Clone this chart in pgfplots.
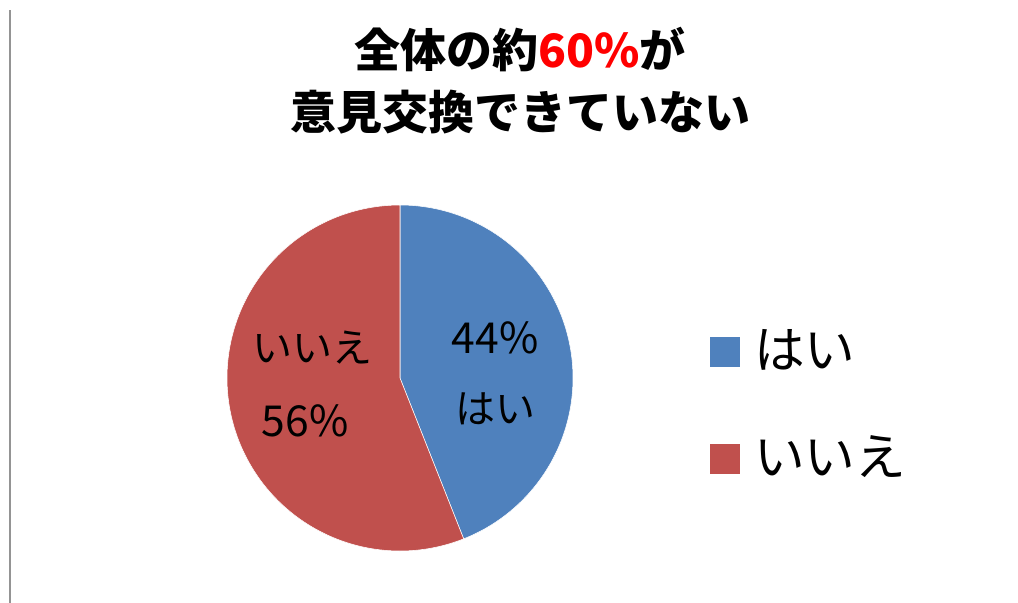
\documentclass[border=0pt]{standalone}
\usepackage{fontspec}
\setmainfont{Noto Sans CJK JP}
\usepackage{pgfplots}
\usepackage{pgfplotstable}
\pgfplotsset{compat=1.18}
\definecolor{pieblue}{HTML}{4F81BD}
\definecolor{piered}{HTML}{C0504D}
\pgfplotstableread{
value
44
56
}\piedata
\pgfplotstablegetelem{0}{value}\of\piedata \let\vA\pgfplotsretval
\pgfplotstablegetelem{1}{value}\of\piedata \let\vB\pgfplotsretval
\pgfmathsetmacro\aEnd{90-3.6*\vA}
\pgfmathsetmacro\bEnd{\aEnd-3.6*\vB}
\def\cx{400}\def\cy{378}\def\rr{173}
\begin{document}
\begin{tikzpicture}
\begin{axis}[
  hide axis, scale only axis, clip=false,
  x=0.75pt, y=0.75pt, y dir=reverse,
  xmin=0, xmax=1018, ymin=0, ymax=603,
  legend cell align=left,
  legend style={at={(axis cs:710,326)}, anchor=north west, draw=none, fill=none,
    font=\fontsize{38}{42}\selectfont, row sep=45pt, inner sep=0pt,
    /tikz/every odd column/.append style={column sep=8.5pt}},
  legend image code/.code={\fill[#1,draw=none] (0pt,-13pt) rectangle (22.5pt,9.5pt);},
]
\addplot[fill=pieblue, draw=white, line width=0.4pt, domain=\aEnd:90, samples=150, variable=\t]
  ({\cx+\rr*cos(\t)}, {\cy-\rr*sin(\t)}) -- (axis cs:\cx,\cy) -- cycle;
\addlegendentry{はい}
\addplot[fill=piered, draw=white, line width=0.4pt, domain=\bEnd:\aEnd, samples=150, variable=\t]
  ({\cx+\rr*cos(\t)}, {\cy-\rr*sin(\t)}) -- (axis cs:\cx,\cy) -- cycle;
\addlegendentry{いいえ}
\node[font=\fontsize{32}{36}\selectfont] at (axis cs:495,338) {\vA\%};
\node[font=\fontsize{30}{34}\selectfont] at (axis cs:495,409) {はい};
\node[font=\fontsize{30}{34}\selectfont] at (axis cs:312,348) {いいえ};
\node[font=\fontsize{32}{36}\selectfont] at (axis cs:305,421) {\vB\%};
\node[font=\bfseries\fontsize{34.5}{46.5}\selectfont, align=center] at (axis cs:520,81)
  {全体の約\textcolor{red}{60\%}が\\意見交換できていない};
\draw[color=black!42, line width=1.5pt] (axis cs:10,10) -- (axis cs:10,603);
\end{axis}
\pgfresetboundingbox
\path (current axis.south west) rectangle (current axis.north east);
\end{tikzpicture}
\end{document}
